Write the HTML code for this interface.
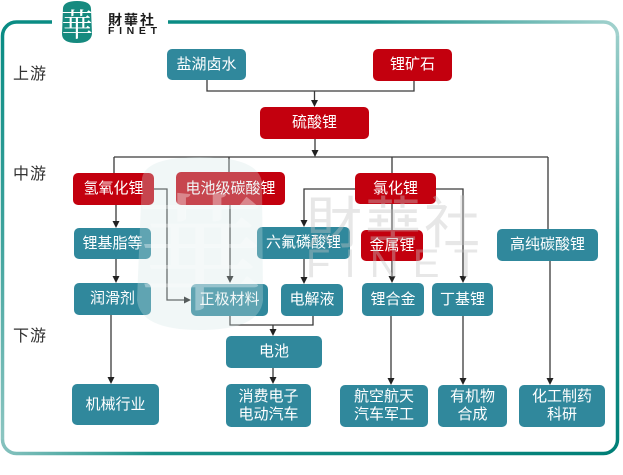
<!DOCTYPE html>
<html><head><meta charset="utf-8">
<style>
html,body{margin:0;padding:0;}
body{width:623px;height:475px;position:relative;background:#fff;overflow:hidden;font-family:"Liberation Sans","Noto Sans CJK SC",sans-serif;}
.b{position:absolute;box-sizing:border-box;border-radius:5px;color:#fff;font-size:15px;display:flex;align-items:center;justify-content:center;text-align:center;line-height:18px;white-space:nowrap;}
.t{background:#30889c;}
.r{background:#c3000e;}
.lab{position:absolute;font-size:16px;color:#333;left:13px;letter-spacing:1px;}
svg{position:absolute;left:0;top:0;}
</style></head><body>

<svg width="623" height="475" viewBox="0 0 623 475">
<defs>
<linearGradient id="gl" gradientUnits="userSpaceOnUse" x1="0" y1="36" x2="0" y2="440">
<stop offset="0" stop-color="#0a8c84"/><stop offset="0.5" stop-color="#3fa39d"/><stop offset="1" stop-color="#8cc5c1"/></linearGradient>
<linearGradient id="gb" gradientUnits="userSpaceOnUse" x1="0" y1="0" x2="620" y2="0">
<stop offset="0" stop-color="#86c2be"/><stop offset="0.25" stop-color="#1a928a"/><stop offset="1" stop-color="#007f77"/></linearGradient>
<linearGradient id="gr" gradientUnits="userSpaceOnUse" x1="0" y1="453" x2="0" y2="22">
<stop offset="0" stop-color="#007f77"/><stop offset="0.5" stop-color="#2b9c95"/><stop offset="1" stop-color="#a3d2ce"/></linearGradient>
<linearGradient id="gt" gradientUnits="userSpaceOnUse" x1="168" y1="0" x2="620" y2="0">
<stop offset="0" stop-color="#0a8c84"/><stop offset="0.45" stop-color="#17908a"/><stop offset="1" stop-color="#a3d2ce"/></linearGradient>
</defs>
<g fill="none" stroke-width="3.5">
<path d="M52,22 H16.5 A14,14 0 0 0 2.5,36" stroke="#0a8c84"/>
<path d="M2.5,36 V439.5" stroke="url(#gl)"/>
<path d="M2.5,439.5 A14,14 0 0 0 16.5,453.5 H603.5" stroke="url(#gb)"/>
<path d="M603.5,453.5 A14,14 0 0 0 617.5,439.5 V36" stroke="url(#gr)"/>
<path d="M617.5,36 A14,14 0 0 0 603.5,22 H168" stroke="url(#gt)"/>
</g>

<!-- logo -->
<path d="M63,8 Q64,1 77,1 Q91,1 91,9 L92,34 Q91,43 77,43 Q62,43 62,34 Z" fill="#168a7f"/>
<text x="77" y="36" font-size="32" fill="#fff" text-anchor="middle" font-family="'Noto Serif CJK SC',serif">華</text>
<text x="108" y="25" font-size="14" fill="#1a1a1a" letter-spacing="2" font-weight="bold" font-family="'Liberation Sans','Noto Sans CJK TC',sans-serif">財華社</text>
<text x="108" y="34" font-size="10.5" font-weight="bold" fill="#1a1a1a" textLength="49" lengthAdjust="spacing" font-family="'Liberation Sans',sans-serif">FINET</text>

<!-- connectors -->
<g stroke="#3a3a3a" stroke-width="1.3" fill="none">
<path d="M207,80 V91 H414 V81"/>
<path d="M314.5,91 V101"/>
<path d="M315,139 V151"/>
<path d="M114,157 H548"/>
<path d="M114,157 V173 M229,157 V172 M392,157 V173 M548,157 V229"/>
<path d="M116,205 V222"/>
<path d="M116,259 V277"/>
<path d="M111,315 V378"/>
<path d="M154,189 H167 V300 H185"/>
<path d="M230,205 V277"/>
<path d="M355,189 H304 V221"/>
<path d="M304,259 V278"/>
<path d="M392,204 V277"/>
<path d="M436,189 H463 V277"/>
<path d="M230,316 V325 H313 V316"/>
<path d="M273,325 V330"/>
<path d="M273,368 V378"/>
<path d="M391,316 V379"/>
<path d="M463,316 V379"/>
<path d="M550,261 V379"/>
</g>
<g fill="#222">
<path d="M311,100 L318,100 L314.5,107 Z"/>
<path d="M311.5,150 L318.5,150 L315,157 Z"/>
<path d="M112.5,221 L119.5,221 L116,228 Z"/>
<path d="M112.5,276 L119.5,276 L116,283 Z"/>
<path d="M107.5,377 L114.5,377 L111,384 Z"/>
<path d="M184,296.5 L184,303.5 L191,300 Z"/>
<path d="M226.5,276 L233.5,276 L230,283 Z"/>
<path d="M300.5,220 L307.5,220 L304,227 Z"/>
<path d="M300.5,277 L307.5,277 L304,284 Z"/>
<path d="M388.5,276 L395.5,276 L392,283 Z"/>
<path d="M459.5,276 L466.5,276 L463,283 Z"/>
<path d="M269.5,329 L276.5,329 L273,336 Z"/>
<path d="M269.5,377 L276.5,377 L273,384 Z"/>
<path d="M387.5,378 L394.5,378 L391,385 Z"/>
<path d="M459.5,378 L466.5,378 L463,385 Z"/>
<path d="M546.5,378 L553.5,378 L550,385 Z"/>
</g>
</svg>

<div class="lab" style="top:60px;">上游</div>
<div class="lab" style="top:160px;">中游</div>
<div class="lab" style="top:322px;">下游</div>

<div class="b t" style="left:167px;top:49px;width:79px;height:31px;">盐湖卤水</div>
<div class="b r" style="left:373px;top:49px;width:79px;height:32px;">锂矿石</div>
<div class="b r" style="left:260px;top:107px;width:109px;height:32px;">硫酸锂</div>

<div class="b r" style="left:73px;top:173px;width:81px;height:32px;">氢氧化锂</div>
<div class="b r" style="left:176px;top:172px;width:109px;height:33px;">电池级碳酸锂</div>
<div class="b r" style="left:355px;top:173px;width:81px;height:31px;">氯化锂</div>

<div class="b t" style="left:74px;top:228px;width:77px;height:31px;">锂基脂等</div>
<div class="b t" style="left:257px;top:227px;width:93px;height:32px;">六氟磷酸锂</div>
<div class="b r" style="left:361px;top:230px;width:62px;height:31px;">金属锂</div>
<div class="b t" style="left:497px;top:229px;width:101px;height:32px;">高纯碳酸锂</div>

<div class="b t" style="left:74px;top:283px;width:77px;height:32px;">润滑剂</div>
<div class="b t" style="left:191px;top:284px;width:77px;height:32px;">正极材料</div>
<div class="b t" style="left:281px;top:284px;width:62px;height:32px;">电解液</div>
<div class="b t" style="left:362px;top:283px;width:62px;height:33px;">锂合金</div>
<div class="b t" style="left:432px;top:283px;width:61px;height:33px;">丁基锂</div>

<div class="b t" style="left:226px;top:336px;width:96px;height:32px;">电池</div>

<div class="b t" style="left:72px;top:384px;width:87px;height:41px;">机械行业</div>
<div class="b t" style="left:226px;top:384px;width:85px;height:43px;">消费电子<br>电动汽车</div>
<div class="b t" style="left:340px;top:385px;width:88px;height:42px;">航空航天<br>汽车军工</div>
<div class="b t" style="left:438px;top:385px;width:69px;height:42px;">有机物<br>合成</div>
<div class="b t" style="left:519px;top:385px;width:86px;height:42px;">化工制药<br>科研</div>

<!-- watermark overlay -->
<svg width="623" height="475" viewBox="0 0 623 475" style="pointer-events:none;">
<path d="M142,178 Q146,157 200,157 Q258,157 262,182 L263,300 Q260,330 200,330 Q140,330 137,300 Z" fill="#cfe6e5" opacity="0.3"/>
<text x="200" y="300" font-size="128" fill="#ffffff" opacity="0.35" text-anchor="middle" font-family="'Noto Serif CJK SC',serif">華</text>
<text x="306" y="243" font-size="56" fill="#c4c4c4" opacity="0.4" textLength="174" lengthAdjust="spacing" font-family="'Noto Sans CJK TC',sans-serif">財華社</text>
<text x="306" y="277" font-size="40" fill="#c4c4c4" opacity="0.4" textLength="172" lengthAdjust="spacing" font-family="'Liberation Sans',sans-serif">FINET</text>
</svg>

</body></html>
